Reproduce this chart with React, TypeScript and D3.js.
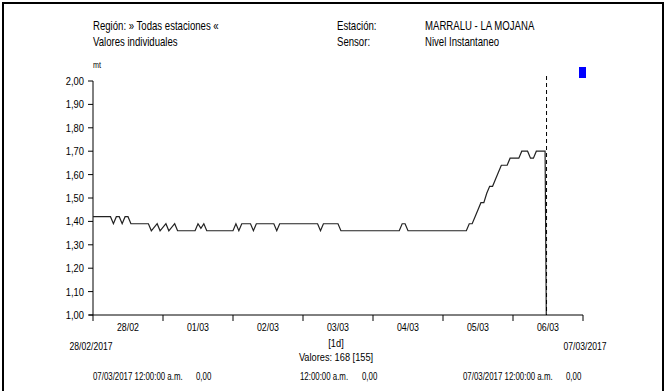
import React from "react";
import * as d3 from "d3";

// ---- data ----
const breakHours = [
  0, 6, 7, 8, 9, 10, 11, 12, 13,
  19, 20, 22, 23, 25, 26, 28, 29,
  35, 36, 37, 38, 39,
  48, 49, 50, 51, 54, 55, 56, 62, 63, 64,
  77, 78, 79, 84, 85,
  105, 106, 107, 108,
  128, 129, 130, 131, 132, 133, 134, 135, 136, 137, 138, 139, 140, 142, 143, 146, 147, 149, 150, 151, 152, 155, 156,
];
const breakValues = [
  1.42, 1.42, 1.39, 1.42, 1.42, 1.39, 1.42, 1.42, 1.39,
  1.39, 1.36, 1.39, 1.36, 1.39, 1.36, 1.39, 1.36,
  1.36, 1.39, 1.37, 1.39, 1.36,
  1.36, 1.39, 1.36, 1.39, 1.39, 1.36, 1.39, 1.39, 1.36, 1.39,
  1.39, 1.36, 1.39, 1.39, 1.36,
  1.36, 1.39, 1.39, 1.36,
  1.36, 1.39, 1.39, 1.42, 1.45, 1.48, 1.48, 1.52, 1.55, 1.55, 1.58, 1.61, 1.64, 1.64, 1.67, 1.67, 1.7, 1.7, 1.67, 1.67, 1.7, 1.7, 0,
];
const markerHour = 155.5;
const dayLabels = ["28/02", "01/03", "02/03", "03/03", "04/03", "05/03", "06/03"];
const yTicks = [1.0, 1.1, 1.2, 1.3, 1.4, 1.5, 1.6, 1.7, 1.8, 1.9, 2.0];
const yDomain = [1.0, 2.0];
const totalHours = 168;
const headerLeft = ["Región: » Todas estaciones «", "Valores individuales"];
const headerMidLabels = ["Estación:", "Sensor:"];
const headerMidValues = ["MARRALU - LA MOJANA", "Nivel Instantaneo"];
const startDateLabel = "28/02/2017";
const endDateLabel = "07/03/2017";
const intervalLabel = "[1d]";
const countLabel = "Valores: 168 [155]";
const footerTimes = ["07/03/2017 12:00:00 a.m.", "12:00:00 a.m.", "07/03/2017 12:00:00 a.m."];
const footerValues = ["0,00", "0,00", "0,00"];
const unitLabel = "mt";

const FONT = "'Liberation Sans', Arial, sans-serif";

type NTProps = {
  x: number;
  y: number;
  size: number;
  sx?: number;
  anchor?: "start" | "middle" | "end";
  children: React.ReactNode;
};
function NText({ x, y, size, sx = 0.8, anchor = "start", children }: NTProps) {
  return (
    <text transform={`translate(${x},${y}) scale(${sx},1)`} fontSize={size} textAnchor={anchor} fill="#000">
      {children}
    </text>
  );
}

export default function App() {
  const W = 666, H = 391;
  const x0 = 93, x1 = 583, yTop = 81, yBot = 315;
  const x = d3.scaleLinear().domain([0, totalHours]).range([x0, x1]);
  const y = d3.scaleLinear().domain(yDomain).range([yBot, yTop]);
  const pts: [number, number][] = breakHours.map((h, i) => [h, breakValues[i]]);
  const line = d3.line<[number, number]>().x((d) => x(d[0])).y((d) => y(d[1]));
  const fmt = (v: number) => d3.format(".2f")(v).replace(".", ",");
  const dayTicks = d3.range(0, totalHours + 1, 24);
  const footerTimeX = [93, 300, 463];
  const footerValX = [196, 362, 566];

  return (
    <svg width={W} height={H} style={{ position: "absolute", left: 0, top: 0, background: "#fff" }} fontFamily={FONT}>
      <defs>
        <clipPath id="plotclip">
          <rect x={x0} y={yTop - 10} width={x1 - x0} height={yBot - yTop + 10} />
        </clipPath>
      </defs>
      <rect x={3} y={3} width={660} height={400} fill="none" stroke="#000" strokeWidth={2} />

      {/* header */}
      {headerLeft.map((t, i) => (
        <NText key={"hl" + i} x={93} y={30 + i * 16} size={12}>{t}</NText>
      ))}
      {headerMidLabels.map((t, i) => (
        <NText key={"hm" + i} x={337} y={30 + i * 16} size={12}>{t}</NText>
      ))}
      {headerMidValues.map((t, i) => (
        <NText key={"hv" + i} x={425} y={30 + i * 16} size={12}>{t}</NText>
      ))}
      <NText x={93} y={68} size={9}>{unitLabel}</NText>
      <rect x={579} y={67} width={7} height={11} fill="#0000ff" />

      {/* y axis */}
      <line x1={x0} x2={x0} y1={yTop} y2={yBot} stroke="#000" />
      {yTicks.map((t) => (
        <g key={"yt" + t}>
          <line x1={x0 - 5} x2={x0} y1={y(t)} y2={y(t)} stroke="#000" />
          <NText x={x0 - 9} y={y(t) + 4} size={11} sx={0.85} anchor="end">{fmt(t)}</NText>
        </g>
      ))}

      {/* x axis */}
      <line x1={x0 - 4} x2={x1} y1={yBot} y2={yBot} stroke="#000" />
      {dayTicks.map((h) => (
        <line key={"xt" + h} x1={x(h)} x2={x(h)} y1={yBot} y2={yBot + 6} stroke="#000" />
      ))}
      {dayLabels.map((d, i) => (
        <NText key={"xl" + i} x={x(i * 24 + 12)} y={331} size={10.5} sx={0.84} anchor="middle">{d}</NText>
      ))}

      {/* data */}
      <g clipPath="url(#plotclip)">
        <path d={line(pts) || ""} fill="none" stroke="#222" strokeWidth={1.2} />
      </g>
      <line x1={x(markerHour)} x2={x(markerHour)} y1={yTop - 5} y2={yBot} stroke="#000" strokeDasharray="4,3" />

      {/* footer */}
      <NText x={x0 - 2} y={350} size={10.5} sx={0.82} anchor="middle">{startDateLabel}</NText>
      <NText x={x1 + 2} y={350} size={10.5} sx={0.82} anchor="middle">{endDateLabel}</NText>
      <NText x={336} y={347} size={11} sx={0.84} anchor="middle">{intervalLabel}</NText>
      <NText x={336} y={361} size={11} sx={0.84} anchor="middle">{countLabel}</NText>
      {footerTimes.map((t, i) => (
        <NText key={"ft" + i} x={footerTimeX[i]} y={380} size={10.5} sx={0.75}>{t}</NText>
      ))}
      {footerValues.map((t, i) => (
        <NText key={"fv" + i} x={footerValX[i]} y={380} size={10.5} sx={0.75}>{t}</NText>
      ))}
    </svg>
  );
}
